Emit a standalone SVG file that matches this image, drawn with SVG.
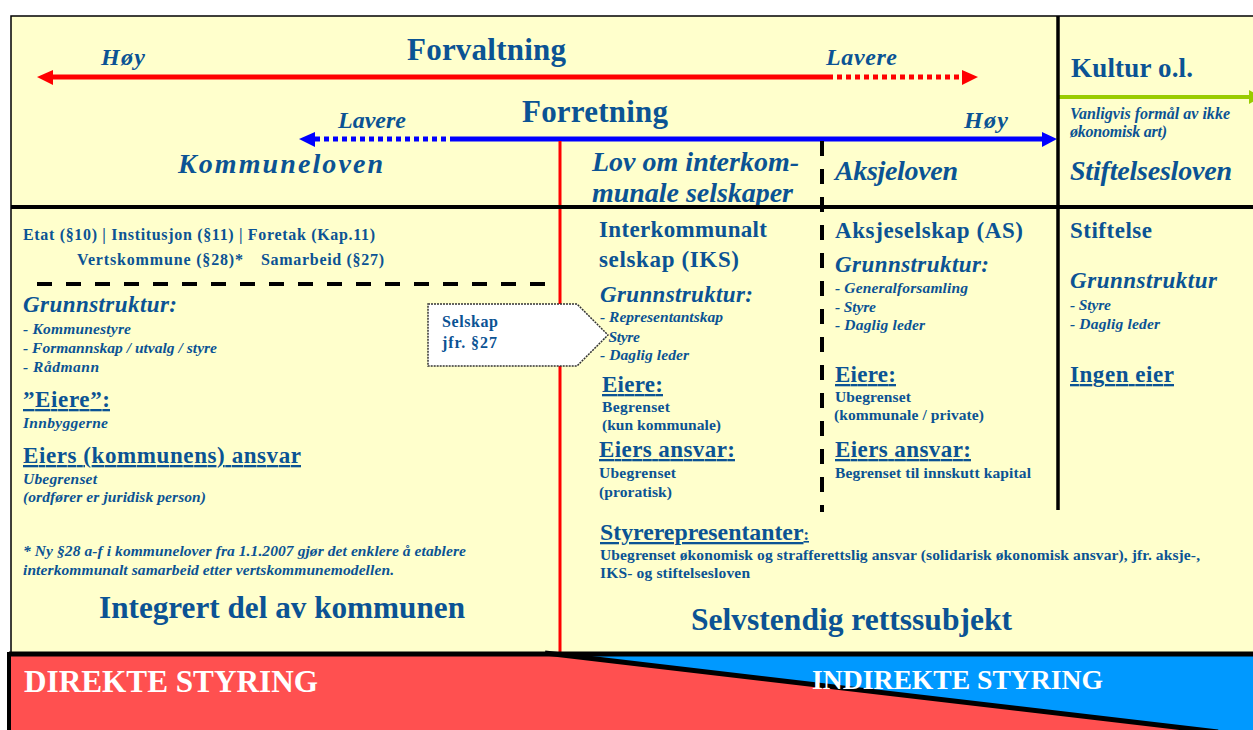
<svg xmlns="http://www.w3.org/2000/svg" width="1253" height="730" viewBox="0 0 1253 730">
<style>
.t{font-family:"Liberation Serif","Times New Roman",serif;fill:#0B5394;font-weight:bold}
.i{font-style:italic}
.u{text-decoration:underline}
.w{fill:#FFFFFF}
.s14{font-size:15.5px}
.s15{font-size:16px}
.s22{font-size:23px}
.s27{font-size:28px}
.s31{font-size:31px}
.lv{font-size:24px}
</style>
<rect width="1253" height="730" fill="#FFFFFF"/>
<rect id="panel" x="11" y="16" width="1244" height="637" fill="#FFFFCC" stroke="#000" stroke-width="1.5"/>

<g id="connectors">
  <line x1="52" y1="77" x2="828" y2="77" stroke="#FF0000" stroke-width="5"/>
  <polygon points="37,77 53,70 53,85" fill="#FF0000"/>
  <line x1="828" y1="77" x2="962" y2="77" stroke="#FF0000" stroke-width="5" stroke-dasharray="5 4"/>
  <polygon points="978,77 962,70 962,85" fill="#FF0000"/>
  <polygon points="299,139 315,132 315,147" fill="#0000FF"/>
  <line x1="315" y1="139" x2="454" y2="139" stroke="#0000FF" stroke-width="5" stroke-dasharray="5 4"/>
  <line x1="454" y1="139" x2="1043" y2="139" stroke="#0000FF" stroke-width="5"/>
  <polygon points="1057,139 1042,132 1042,147" fill="#0000FF"/>
  <line x1="1058" y1="97" x2="1250" y2="97" stroke="#99CC00" stroke-width="4"/>
  <polygon points="1262,97 1249,90 1249,104" fill="#99CC00"/>
  <line x1="560" y1="141" x2="560" y2="652" stroke="#FF0000" stroke-width="3"/>
  <line x1="822" y1="141" x2="822" y2="512" stroke="#000" stroke-width="4" stroke-dasharray="15 13"/>
  <line x1="1058" y1="16" x2="1058" y2="510" stroke="#000" stroke-width="3.5"/>
  <line x1="37" y1="284" x2="553" y2="284" stroke="#000" stroke-width="4" stroke-dasharray="15 14"/>
</g>

<g id="header">
  <text class="t s31" x="407" y="60" textLength="159">Forvaltning</text>
  <text class="t i lv" x="101" y="65" textLength="44">Høy</text>
  <text class="t i lv" x="826" y="65" textLength="71">Lavere</text>
  <text class="t s31" x="522" y="122" textLength="146">Forretning</text>
  <text class="t i lv" x="338" y="128" textLength="68">Lavere</text>
  <text class="t i lv" x="964" y="128" textLength="44">Høy</text>
  <text class="t i s27" x="178" y="173" textLength="205">Kommuneloven</text>
  <text class="t i s27" x="592" y="171" textLength="207">Lov om interkom-</text>
  <text class="t i s27" x="592" y="202" textLength="201">munale selskaper</text>
  <text class="t i s27" x="835" y="180" textLength="123">Aksjeloven</text>
  <text class="t" x="1071" y="77" font-size="27" textLength="122">Kultur o.l.</text>
  <text class="t i s15" x="1070" y="119" textLength="160">Vanligvis formål av ikke</text>
  <text class="t i s15" x="1070" y="137" textLength="97">økonomisk art)</text>
  <text class="t i s27" x="1070" y="180" textLength="162">Stiftelsesloven</text>
</g>
<line x1="11" y1="207" x2="1253" y2="207" stroke="#000" stroke-width="4"/>

<g id="kommune">
  <text class="t s15" x="23" y="240" textLength="352">Etat (§10) | Institusjon  (§11) | Foretak (Kap.11)</text>
  <text class="t s15" x="77" y="265" textLength="166">Vertskommune (§28)*</text>
  <text class="t s15" x="261" y="265" textLength="123">Samarbeid (§27)</text>
  <text class="t i s22" x="23" y="312" textLength="154">Grunnstruktur:</text>
  <text class="t i s14" x="23" y="334" textLength="108">- Kommunestyre</text>
  <text class="t i s14" x="23" y="353" textLength="194">- Formannskap / utvalg / styre</text>
  <text class="t i s14" x="23" y="372" textLength="76">- Rådmann</text>
  <text class="t u s22" x="23" y="407" textLength="87">”Eiere”:</text>
  <text class="t i s14" x="23" y="428" textLength="85">Innbyggerne</text>
  <text class="t u s22" x="23" y="463" textLength="278">Eiers (kommunens)  ansvar</text>
  <text class="t i s14" x="23" y="484" textLength="74">Ubegrenset</text>
  <text class="t i s14" x="23" y="502" textLength="183">(ordfører  er juridisk person)</text>
  <text class="t i s14" x="23" y="556" textLength="443">* Ny §28 a-f i kommunelover fra 1.1.2007 gjør det enklere å etablere</text>
  <text class="t i s14" x="23" y="575" textLength="371">interkommunalt samarbeid etter vertskommunemodellen.</text>
  <text class="t s31" x="99" y="618" textLength="366" lengthAdjust="spacingAndGlyphs">Integrert del av kommunen</text>
</g>

<g id="iks">
  <text class="t s22" x="599" y="237" textLength="168">Interkommunalt</text>
  <text class="t s22" x="599" y="267" textLength="140">selskap  (IKS)</text>
  <text class="t i s22" x="600" y="302" textLength="153">Grunnstruktur:</text>
  <text class="t i s14" x="600" y="322" textLength="123">- Representantskap</text>
  <text class="t i s14" x="600" y="342" textLength="40">- Styre</text>
  <text class="t i s14" x="600" y="360" textLength="89">- Daglig leder</text>
  <text class="t u s22" x="602" y="392" textLength="61">Eiere:</text>
  <text class="t s14" x="602" y="412" textLength="68">Begrenset</text>
  <text class="t s14" x="602" y="430" textLength="119">(kun kommunale)</text>
  <text class="t u s22" x="599" y="457" textLength="136">Eiers  ansvar:</text>
  <text class="t s14" x="599" y="478" textLength="77">Ubegrenset</text>
  <text class="t s14" x="599" y="497" textLength="73">(proratisk)</text>
</g>

<g id="callout">
  <polygon points="428,304 577,304 608,335 577,366 428,366" fill="#FFFFFF" stroke="#333" stroke-width="1.5" stroke-dasharray="2 1"/>
  <text class="t" font-size="16" x="442" y="327" textLength="56">Selskap</text>
  <text class="t" font-size="16" x="442" y="348" textLength="55">jfr. §27</text>
</g>

<g id="as">
  <text class="t s22" x="835" y="238" textLength="188">Aksjeselskap  (AS)</text>
  <text class="t i s22" x="835" y="272" textLength="154">Grunnstruktur:</text>
  <text class="t i s14" x="835" y="293" textLength="133">- Generalforsamling</text>
  <text class="t i s14" x="835" y="312" textLength="41">- Styre</text>
  <text class="t i s14" x="835" y="330" textLength="90">- Daglig leder</text>
  <text class="t u s22" x="835" y="382" textLength="61">Eiere:</text>
  <text class="t s14" x="835" y="402" textLength="76">Ubegrenset</text>
  <text class="t s14" x="834" y="420" textLength="150">(kommunale / private)</text>
  <text class="t u s22" x="835" y="457" textLength="136">Eiers  ansvar:</text>
  <text class="t s14" x="835" y="478" textLength="196">Begrenset til innskutt  kapital</text>
</g>

<g id="stiftelse">
  <text class="t s22" x="1070" y="238" textLength="82">Stiftelse</text>
  <text class="t i s22" x="1070" y="288" textLength="147">Grunnstruktur</text>
  <text class="t i s14" x="1070" y="310" textLength="41">- Styre</text>
  <text class="t i s14" x="1070" y="329" textLength="90">- Daglig leder</text>
  <text class="t u s22" x="1070" y="382" textLength="104">Ingen  eier</text>
</g>

<g id="selvstendig">
  <text class="t u s22" x="600" y="540" textLength="209" lengthAdjust="spacingAndGlyphs">Styrerepresentanter<tspan font-size="16">:</tspan></text>
  <text class="t s14" x="600" y="560" textLength="600">Ubegrenset økonomisk og strafferettslig ansvar (solidarisk økonomisk ansvar), jfr. aksje-,</text>
  <text class="t s14" x="600" y="578" textLength="150">IKS- og stiftelsesloven</text>
  <text class="t s31" x="691" y="630" textLength="321" lengthAdjust="spacingAndGlyphs">Selvstendig rettssubjekt</text>
</g>

<g id="styring">
  <rect x="9" y="654" width="1250" height="80" fill="#FF5050" stroke="#000" stroke-width="4"/>
  <polygon points="560,655 1255,655 1255,732 1215,732" fill="#0099FF"/>
  <line x1="545" y1="653" x2="1218" y2="732" stroke="#000" stroke-width="5"/>
  <line x1="9" y1="654" x2="1253" y2="654" stroke="#000" stroke-width="5"/>
  <text class="t w" font-size="31" x="24" y="692" textLength="294" lengthAdjust="spacingAndGlyphs">DIREKTE STYRING</text>
  <text class="t w" font-size="28" x="812" y="689" textLength="291" lengthAdjust="spacingAndGlyphs">INDIREKTE STYRING</text>
</g>
</svg>
